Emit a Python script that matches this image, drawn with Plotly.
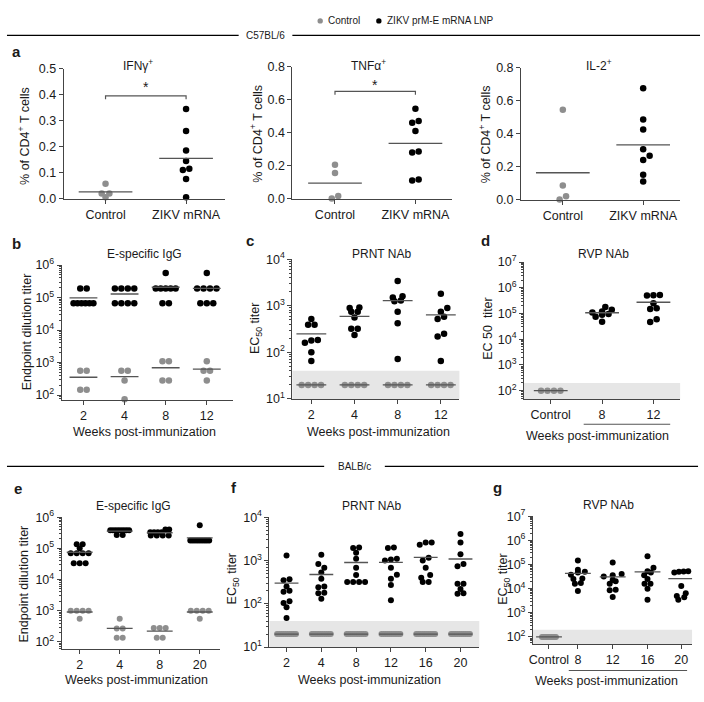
import numpy as np
import plotly.graph_objects as go

W, H = 704, 702
FONT = "Arial, Liberation Sans, Helvetica, sans-serif"
GREY = "#8e8e8e"
BLACK = "#000000"
AX = "#444444"
TXT = "#1a1a1a"
MEANC = "#555555"
BAND = "#e6e6e6"

# ---------------- data ----------------
A_CATS = ["Control", "ZIKV mRNA"]
IFNG_CONTROL = [0.057, 0.02, 0.02, 0.005]
IFNG_ZIKV = [0.345, 0.26, 0.185, 0.145, 0.115, 0.11, 0.075, 0.005]
TNFA_CONTROL = [0.205, 0.155, 0.015, 0.0]
TNFA_ZIKV = [0.545, 0.47, 0.46, 0.41, 0.285, 0.28, 0.115, 0.11]
IL2_CONTROL = [0.545, 0.085, 0.02, 0.0]
IL2_ZIKV = [0.675, 0.485, 0.425, 0.305, 0.265, 0.24, 0.15, 0.11]

B_WEEKS = ["2", "4", "8", "12"]
B_IGG_ZIKV = [
    [1.9e5, 1.9e5, 6.7e4, 6.7e4, 6.7e4, 6.7e4, 6.7e4, 6.7e4],
    [1.9e5, 1.9e5, 1.9e5, 1.9e5, 6.7e4, 6.7e4, 6.7e4, 6.7e4],
    [5.7e5, 1.9e5, 1.9e5, 1.9e5, 1.9e5, 1.9e5, 6.7e4, 6.7e4],
    [5.7e5, 1.9e5, 1.9e5, 1.9e5, 1.9e5, 6.7e4, 6.7e4, 6.7e4],
]
B_IGG_CONTROL = [
    [560, 560, 145, 145],
    [560, 560, 280, 74],
    [1100, 1100, 280, 280],
    [1100, 560, 560, 280],
]

C_PRNT_ZIKV = [
    [520, 390, 390, 185, 180, 160, 100, 65],
    [920, 900, 740, 740, 560, 320, 320, 235],
    [3400, 1600, 1500, 1300, 1250, 740, 420, 72],
    [1800, 900, 740, 580, 520, 250, 220, 65],
]
C_PRNT_CONTROL = [[20, 20, 20, 20]] * 4

D_CATS = ["Control", "8", "12"]
D_RVP_CONTROL = [100, 100, 100, 100]
D_RVP_ZIKV = [
    [1.8e5, 1.4e5, 1.2e5, 1.1e5, 9.5e4, 9.0e4, 7.5e4, 4.8e4],
    [5.2e5, 5.1e5, 5.0e5, 2.5e5, 1.6e5, 1.5e5, 6.0e4, 4.7e4],
]

E_WEEKS = ["2", "4", "8", "20"]
E_IGG_ZIKV = [
    [1.35e5, 1.35e5, 1.0e5, 7e4, 7e4, 7e4, 7e4, 3.3e4, 3.3e4, 3.3e4],
    [3.8e5, 3.8e5, 3.8e5, 3.8e5, 3.8e5, 3.8e5, 3.8e5, 3.8e5, 2.7e5, 2.7e5],
    [4.0e5, 4.0e5, 3.3e5, 3.3e5, 3.3e5, 3.3e5, 2.6e5, 2.6e5, 2.6e5, 2.6e5],
    [5.5e5, 1.8e5, 1.8e5, 1.8e5, 1.8e5, 1.8e5, 1.8e5, 1.8e5, 1.8e5, 1.8e5],
]
E_IGG_CONTROL = [
    [1000, 1000, 1000, 1000, 550],
    [550, 270, 270, 135, 135],
    [280, 280, 280, 135, 135],
    [1000, 1000, 1000, 1000, 550],
]

F_WEEKS = ["2", "4", "8", "12", "16", "20"]
F_PRNT_ZIKV = [
    [1300, 370, 350, 250, 200, 190, 115, 105, 83, 47],
    [1350, 830, 680, 530, 380, 250, 240, 180, 175, 130],
    [2000, 1950, 1500, 1100, 680, 460, 320, 320, 320, 320],
    [2000, 1950, 1100, 1050, 1000, 680, 470, 380, 270, 120],
    [2600, 2600, 2300, 1150, 1000, 680, 460, 400, 320, 320],
    [4100, 2600, 1400, 830, 740, 290, 290, 220, 175, 170],
]
F_PRNT_CONTROL = [[20, 20, 20, 20, 20, 20, 20, 20, 20, 20]] * 6

G_CATS = ["Control", "8", "12", "16", "20"]
G_RVP_CONTROL = [100, 100, 100, 100, 100, 100, 100, 100, 100, 100]
G_RVP_ZIKV = [
    [1.45e5, 6.0e4, 5.0e4, 4.6e4, 3.8e4, 2.6e4, 2.5e4, 1.7e4, 1.6e4, 8.0e3],
    [1.2e5, 4.0e4, 3.6e4, 3.2e4, 2.3e4, 2.0e4, 1.6e4, 9.0e3, 8.5e3, 4.5e3],
    [2.2e5, 7.4e4, 5.2e4, 4.6e4, 3.6e4, 2.5e4, 1.6e4, 1.6e4, 1.0e4, 3.5e3],
    [5.3e4, 5.1e4, 5.0e4, 4.6e4, 1.3e4, 6.5e3, 5.0e3, 4.4e3, 3.5e3],
]

LOD_PRNT = 40
LOD_RVP = 200

# ---------------- layout helpers ----------------
G_POS = [0, 0.83, 1.83, 2.83, 3.8]


def swarm(vals, log, ppu_y, d, maxspan):
    v = np.asarray(vals, float)
    y = (np.log10(v) if log else v) * ppu_y
    order = np.argsort(y, kind="stable")
    rows = []
    for i in order:
        if rows and y[i] - y[rows[-1][0]] < 0.55 * d:
            rows[-1].append(i)
        else:
            rows.append([i])
    placed = []
    off = np.zeros(len(v))
    lim = (0.85 * d) ** 2

    def clash(xs, ys):
        return any((xa - xb) ** 2 + (ya - yb) ** 2 < lim
                   for xa, ya in zip(xs, ys) for xb, yb in placed)

    for row in rows:
        n = len(row)
        ys = [y[j] for j in row]
        if n == 1:
            xs = [0.0]
            for c in [0.0, 0.5 * d, -0.5 * d, d, -d]:
                if not clash([c], ys):
                    xs = [c]
                    break
        else:
            s = min(d, maxspan / (n - 1))
            xs = [(k - (n - 1) / 2) * s for k in range(n)]
            if s >= d:
                while clash(xs, ys) and s < 1.5 * d:
                    s += 0.25
                    xs = [(k - (n - 1) / 2) * s for k in range(n)]
        for j, xv in zip(row, xs):
            off[j] = xv
            placed.append((xv, y[j]))
    return off


def grp(positions, controls, zikv):
    out = []
    for p, c in zip(positions, controls):
        out.append((p, c, GREY))
    for p, z in zip(positions, zikv):
        out.append((p, z, BLACK))
    return out


panels = [
    dict(box=(60, 222, 61, 194), xr=(-0.52, 1.48), yr=(0, 0.5), log=False, dtick=0.1,
         pos=[0, 1], labels=A_CATS,
         groups=[(0, IFNG_CONTROL, GREY), (1, IFNG_ZIKV, BLACK)],
         half=27, d=6.5, span=20, sig=(0.395, 0.428)),
    dict(box=(290, 451, 59, 194), xr=(-0.53, 1.46), yr=(0, 0.8), log=False, dtick=0.2,
         pos=[0, 1], labels=A_CATS,
         groups=[(0, TNFA_CONTROL, GREY), (1, TNFA_ZIKV, BLACK)],
         half=27, d=6.5, span=20, sig=(0.65, 0.69)),
    dict(box=(520, 680, 60, 195), xr=(-0.52, 1.46), yr=(0, 0.8), log=False, dtick=0.2,
         pos=[0, 1], labels=A_CATS,
         groups=[(0, IL2_CONTROL, GREY), (1, IL2_ZIKV, BLACK)],
         half=27, d=6.5, span=20),
    dict(box=(58, 230, 262, 400), xr=(-0.53, 3.63), yr=(1.85, 6), log=True,
         pos=[0, 1, 2, 3], labels=B_WEEKS,
         groups=grp([0, 1, 2, 3], B_IGG_CONTROL, B_IGG_ZIKV),
         half=14, d=6.5, span=20),
    dict(box=(290, 458, 256, 399), xr=(-0.44, 3.43), yr=(1, 4), log=True,
         pos=[0, 1, 2, 3], labels=B_WEEKS,
         groups=grp([0, 1, 2, 3], C_PRNT_CONTROL, C_PRNT_ZIKV),
         half=15, d=6.5, span=20, band=LOD_PRNT),
    dict(box=(523, 680, 259, 399), xr=(-0.52, 2.52), yr=(1.68, 7), log=True,
         pos=[0, 1, 2], labels=D_CATS,
         groups=[(0, D_RVP_CONTROL, GREY), (1, D_RVP_ZIKV[0], BLACK), (2, D_RVP_ZIKV[1], BLACK)],
         half=17, d=6.5, span=20, band=LOD_RVP),
    dict(box=(58, 217, 520, 655), xr=(-0.45, 3.5), yr=(1.77, 6), log=True,
         pos=[0, 1, 2, 3], labels=E_WEEKS,
         groups=grp([0, 1, 2, 3], E_IGG_CONTROL, E_IGG_ZIKV),
         half=13, d=6.0, span=19),
    dict(box=(267, 478, 520, 653), xr=(-0.49, 5.54), yr=(1, 4), log=True,
         pos=[0, 1, 2, 3, 4, 5], labels=F_WEEKS,
         groups=grp([0, 1, 2, 3, 4, 5], F_PRNT_CONTROL, F_PRNT_ZIKV),
         half=12, d=6.0, span=19, band=LOD_PRNT),
    dict(box=(532, 692, 519, 650), xr=(-0.46, 4.11), yr=(1.70, 7), log=True,
         pos=G_POS, labels=G_CATS,
         groups=[(G_POS[0], G_RVP_CONTROL, GREY)] + [(p, z, BLACK) for p, z in zip(G_POS[1:], G_RVP_ZIKV)],
         half=13, d=6.0, span=14, band=LOD_RVP),
]

fig = go.Figure()
shapes, annots = [], []
layout = {}


def P(x, y):
    return x / W, 1 - y / H


def text(x, y, t, size=12, xanchor="center", yanchor="middle", angle=0, color=TXT):
    px, py = P(x, y)
    annots.append(dict(x=px, y=py, xref="paper", yref="paper", text=t, showarrow=False,
                       xanchor=xanchor, yanchor=yanchor, textangle=angle,
                       font=dict(size=size, color=color, family=FONT)))


def hline(x0, x1, y, width=1.2, color="#000"):
    a, b = P(x0, y)
    c, _ = P(x1, y)
    shapes.append(dict(type="line", xref="paper", yref="paper", x0=a, x1=c, y0=b, y1=b,
                       line=dict(color=color, width=width)))


for i, p in enumerate(panels, start=1):
    s = "" if i == 1 else str(i)
    x0, x1, yt, yb = p["box"]
    xr, yr = p["xr"], p["yr"]
    ppu_x = (x1 - x0) / (xr[1] - xr[0])
    ppu_y = (yb - yt) / (yr[1] - yr[0])
    xa = dict(domain=[x0 / W, x1 / W], range=list(xr), anchor="y" + s, showline=True,
              linecolor=AX, linewidth=1, ticks="outside", ticklen=4, tickwidth=1, tickcolor=AX,
              tickmode="array", tickvals=p["pos"], ticktext=p["labels"], showgrid=False,
              zeroline=False, tickfont=dict(size=12.5, color=TXT, family=FONT), fixedrange=True)
    ya = dict(domain=[1 - yb / H, 1 - yt / H], range=list(yr), anchor="x" + s, showline=True,
              linecolor=AX, linewidth=1, ticks="outside", ticklen=4, tickwidth=1, tickcolor=AX,
              showgrid=False, zeroline=False, tickfont=dict(size=12.5, color=TXT, family=FONT),
              fixedrange=True)
    if p["log"]:
        ya["type"] = "log"
        lo, hi = int(np.floor(yr[0])), int(np.ceil(yr[1]))
        majors = [e for e in range(lo, hi + 1) if yr[0] - 1e-9 <= e <= yr[1] + 1e-9]
        ya["tickmode"] = "array"
        ya["tickvals"] = [10.0 ** e for e in majors]
        ya["ticktext"] = [f"10<sup>{e}</sup>" for e in majors]
        minors = [k * 10.0 ** e for e in range(lo, hi) for k in range(2, 10)
                  if yr[0] <= np.log10(k * 10.0 ** e) <= yr[1]]
        ya["minor"] = dict(tickmode="array", tickvals=minors, ticks="outside", ticklen=2,
                           tickcolor=AX, tickwidth=1, showgrid=False)
    else:
        ya["tick0"] = 0
        ya["dtick"] = p["dtick"]
        ya["tickformat"] = ".1f"
    layout["xaxis" + s] = xa
    layout["yaxis" + s] = ya

    if "band" in p:
        shapes.append(dict(type="rect", xref=f"x{s} domain", x0=0, x1=1, yref="y" + s,
                           y0=10 ** yr[0], y1=p["band"], fillcolor=BAND, line=dict(width=0),
                           layer="below"))

    for pos, vals, col in p["groups"]:
        off = swarm(vals, p["log"], ppu_y, p["d"], p["span"]) / ppu_x
        fig.add_trace(go.Scatter(x=pos + off, y=vals, xaxis="x" + s, yaxis="y" + s, mode="markers",
                                 marker=dict(size=p["d"], color=col, line=dict(width=0)),
                                 cliponaxis=False, showlegend=False, hoverinfo="skip"))
    hw = p["half"] / ppu_x
    for pos, vals, col in p["groups"]:
        m = float(np.mean(vals))
        fig.add_trace(go.Scatter(x=[pos - hw, pos + hw], y=[m, m], xaxis="x" + s, yaxis="y" + s,
                                 mode="lines", line=dict(color=MEANC, width=1.3),
                                 cliponaxis=False, showlegend=False, hoverinfo="skip"))
    if "sig" in p:
        h, hs = p["sig"]
        dd = 0.025 * (yr[1] - yr[0])
        fig.add_trace(go.Scatter(x=[0, 0, 1, 1], y=[h - dd, h, h, h - dd], xaxis="x" + s,
                                 yaxis="y" + s, mode="lines", line=dict(color=MEANC, width=1.2),
                                 cliponaxis=False, showlegend=False, hoverinfo="skip"))
        annots.append(dict(x=0.5, y=hs, xref="x" + s, yref="y" + s, text="*", showarrow=False,
                           xanchor="center", yanchor="middle",
                           font=dict(size=14, color=TXT, family=FONT)))

# ---------------- texts ----------------
# legend
for cx, col, lab in [(318, GREY, "Control"), (377, BLACK, "ZIKV prM-E mRNA LNP")]:
    a, b = P(cx - 2.7, 9.5)
    c, d = P(cx + 2.7, 14.9)
    shapes.append(dict(type="circle", xref="paper", yref="paper", x0=a, x1=c, y0=b, y1=d,
                       fillcolor=col, line=dict(width=0)))
    text(cx + 6, 12, lab, size=10, xanchor="left")

# dividers
hline(3, 236, 27)
hline(290, 700, 27)
text(263, 27, "C57BL/6", size=10)
hline(3, 322, 468)
hline(383, 698, 468)
text(353, 468, "BALB/c", size=10)

# panel letters
for lx, ly, lt in [(6, 43, "a"), (6, 240, "b"), (241, 237, "c"), (478, 237, "d"),
                   (8, 491, "e"), (226, 490, "f"), (490, 490, "g")]:
    text(lx, ly, f"<b>{lt}</b>", size=15, xanchor="left")

# panel titles
for tx, ty, tt in [(135, 57, "IFNγ<sup>+</sup>"), (367, 57, "TNFα<sup>+</sup>"),
                   (598, 57, "IL-2<sup>+</sup>"), (141, 251, "E-specific IgG"),
                   (380, 251, "PRNT NAb"), (603, 251, "RVP NAb"),
                   (130, 509, "E-specific IgG"), (370, 509, "PRNT NAb"), (608, 508, "RVP NAb")]:
    text(tx, ty, tt, size=12)

# y titles
for tx, ty, tt in [(20, 130, "% of CD4<sup>+</sup> T cells"), (254, 128, "% of CD4<sup>+</sup> T cells"),
                   (484, 128, "% of CD4<sup>+</sup> T cells"), (24, 330, "Endpoint dilution titer"),
                   (253, 327, "EC<sub>50</sub> titer"), (486, 327, "EC 50  titer"),
                   (20, 588, "Endpoint dilution titer"), (230, 583, "EC<sub>50</sub> titer"),
                   (503, 584, "EC<sub>50</sub> titer")]:
    text(tx, ty, tt, size=12.5, angle=-90)

# x titles
for tx, ty in [(141, 433), (377, 433), (597, 437), (133, 687), (368, 687), (606, 688)]:
    text(tx, ty, "Weeks post-immunization", size=12.5)
hline(583, 670, 425, width=1.1, color="#555")
hline(568, 687, 677, width=1.1, color="#555")

fig.update_layout(
    width=W, height=H, margin=dict(l=0, r=0, t=0, b=0),
    paper_bgcolor="white", plot_bgcolor="white",
    font=dict(family=FONT, color=TXT),
    shapes=shapes, annotations=annots, showlegend=False,
    **layout,
)

fig.write_html("out.html", include_plotlyjs=True, config={"displayModeBar": False},
               post_script="document.body.style.margin='0';document.body.style.overflow='hidden';")
